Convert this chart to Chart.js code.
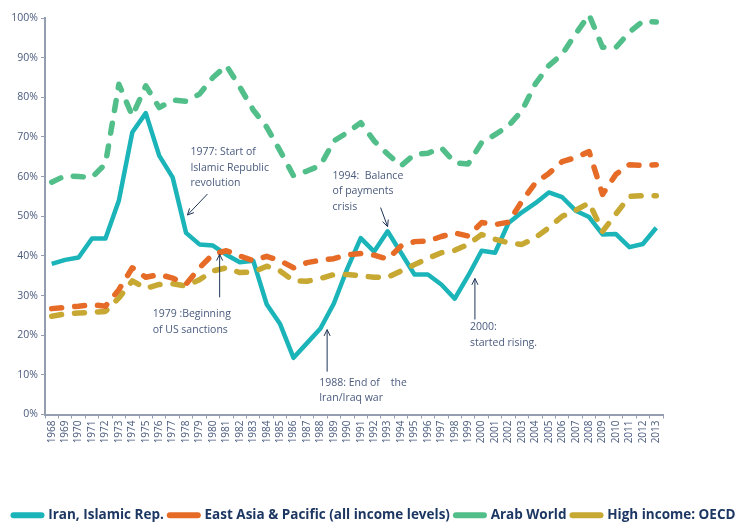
<!DOCTYPE html>
<html>
<head>
<meta charset="utf-8">
<script src="https://cdn.jsdelivr.net/npm/chart.js@4"></script>
<style>
  body{margin:0;background:#fff;}
  #wrap{width:749px;height:522px;}
</style>
</head>
<body>
<div id="wrap"><canvas id="chart" width="749" height="522"></canvas></div>
<script>
// years on the x axis
const years = [];
for (let y = 1968; y <= 2013; y++) years.push(String(y));

// values in %
const iran = [38,39,39.6,44.4,44.4,54,71.2,76,65.3,59.8,45.8,42.9,42.6,40.3,38.4,38.8,27.8,22.8,14.3,18,21.7,28,36.8,44.5,41.1,46.2,40.8,35.3,35.3,32.8,29.2,35,41.3,40.8,48.3,51,53.3,56,54.8,51.4,49.8,45.4,45.5,42.2,43,47.1];
const eastAsia = [26.7,27,27.3,27.7,27.3,31.5,37,34.6,35.3,34.4,32.9,37,40.4,41.3,40,38.8,39.9,38.8,37,38.3,38.9,39.3,40.3,40.6,40.2,39.2,42.5,43.6,43.7,44.9,45.8,45,48.4,47.9,48.5,53.8,58.4,60.8,63.8,64.8,66.3,55.5,60.6,63,62.8,63];
const arabWorld = [58.6,60.2,60,59.8,63.2,83.3,75.3,82.9,77.4,79.3,79,80.8,85,88,82.6,76.8,72.5,66.5,60.2,61.4,62.8,69,71.1,73.6,69,65.7,62.7,65.6,65.9,67.3,63.5,63.2,68.6,70.6,72.8,76.6,83.4,88,90.9,96,100.8,92.6,92.6,96.4,99.2,99];
const highOecd = [24.8,25.4,25.6,25.8,26,29.4,33.7,31.8,32.8,33,32.4,34,36.2,37,35.8,35.9,37.4,36.2,33.7,33.6,34.3,35.3,35.3,35,34.6,34.6,36.2,37.8,39.4,40.8,41.4,42.9,45.4,44.2,43.3,42.9,44.6,47.1,50,51.5,53.4,46.2,50.6,55,55.2,55.2];

const seriesNames = ["Iran, Islamic Rep.", "East Asia & Pacific (all income levels)", "Arab World", "High income: OECD"];
const seriesColors = ["#1bb4b9", "#e56b27", "#52bf8b", "#c6a833"];

const textColor = "#4a5b7e";
const axisColor = "#959eb0";

// callouts: arrow tip at (category index, value), tail and text offset in px
const notes = [
  { lines: ["1977: Start of", "Islamic Republic", "revolution"], at: [10.1, 50.3], tail: [20, -21], text: [3, -63] },
  { lines: ["1994:  Balance", "of payments", "crisis"], at: [25, 47.4], tail: [-7, -19], text: [-55, -51] },
  { lines: ["1979 :Beginning", "of US sanctions"], at: [12.5, 40.4], tail: [0, 43], text: [-67, 60] },
  { lines: ["1988: End of    the", "Iran/Iraq war"], at: [20.5, 21.4], tail: [0, 42], text: [-8, 53] },
  { lines: ["2000:", "started rising."], at: [31.5, 34.3], tail: [0, 41], text: [-5, 49] }
];

const notesPlugin = {
  id: "notes",
  afterDatasetsDraw(chart) {
    const ctx = chart.ctx;
    const xs = chart.scales.x, ys = chart.scales.y;
    ctx.save();
    ctx.font = "10.5px 'Open Sans'";
    ctx.fillStyle = textColor;
    ctx.textBaseline = "middle";
    ctx.textAlign = "left";
    notes.forEach(n => {
      const px = xs.getPixelForValue(n.at[0]);
      const py = ys.getPixelForValue(n.at[1]);
      n.lines.forEach((l, i) => ctx.fillText(l, px + n.text[0], py + n.text[1] + i * 15.5));
      const tx = px + n.tail[0], ty = py + n.tail[1];
      ctx.strokeStyle = "#1f3558";
      ctx.lineWidth = 1;
      ctx.beginPath();
      ctx.moveTo(tx, ty);
      ctx.lineTo(px, py);
      const a = Math.atan2(py - ty, px - tx);
      ctx.moveTo(px - 7 * Math.cos(a - 0.45), py - 7 * Math.sin(a - 0.45));
      ctx.lineTo(px, py);
      ctx.lineTo(px - 7 * Math.cos(a + 0.45), py - 7 * Math.sin(a + 0.45));
      ctx.stroke();
    });
    ctx.restore();
  }
};

function line(i, data, dashed, order) {
  return {
    label: seriesNames[i],
    data: data,
    borderColor: seriesColors[i],
    backgroundColor: seriesColors[i],
    borderWidth: dashed ? 5.5 : 4.5,
    borderDash: dashed ? [10, 13] : [],
    borderCapStyle: dashed ? "round" : "butt",
    borderJoinStyle: "round",
    pointRadius: 0,
    tension: 0,
    fill: false,
    clip: false,
    order: order
  };
}

new Chart(document.getElementById("chart"), {
  type: "line",
  data: {
    labels: years,
    datasets: [
      line(0, iran, false, 4),
      line(1, eastAsia, true, 1),
      line(2, arabWorld, true, 2),
      line(3, highOecd, true, 3)
    ]
  },
  plugins: [notesPlugin],
  options: {
    responsive: false,
    animation: false,
    layout: { padding: { top: 18, bottom: -10, left: 0, right: 0 } },
    plugins: {
      tooltip: { enabled: false },
      legend: {
        position: "bottom",
        labels: {
          usePointStyle: true,
          pointStyleWidth: 28,
          padding: 6,
          color: "#1d3763",
          font: { family: "'Open Sans'", size: 13.5, weight: "bold" },
          generateLabels: (chart) => chart.data.datasets.map((ds, i) => ({
            text: ds.label,
            strokeStyle: ds.borderColor,
            fillStyle: ds.borderColor,
            fontColor: "#1d3763",
            lineWidth: 6,
            lineCap: "round",
            lineDash: [],
            pointStyle: "line",
            hidden: false,
            datasetIndex: i
          }))
        }
      }
    },
    scales: {
      x: {
        offset: true,
        grid: { display: true, offset: true, drawOnChartArea: false, tickLength: 4, color: axisColor },
        border: { color: axisColor, width: 2 },
        ticks: {
          autoSkip: false, minRotation: 90, maxRotation: 90, padding: 2,
          color: textColor, font: { family: "'Open Sans'", size: 10 }
        },
        afterFit: s => { s.height = 88; }
      },
      y: {
        min: 0, max: 100,
        grid: { display: true, drawOnChartArea: false, tickLength: 4, color: axisColor },
        border: { color: axisColor, width: 2 },
        ticks: {
          stepSize: 10, padding: 3, color: textColor,
          font: { family: "'Open Sans'", size: 10.5 },
          callback: v => v + "%"
        },
        afterFit: s => { s.width = 45; }
      },
      yR: {
        position: "right",
        display: true,
        grid: { display: false },
        border: { display: false },
        ticks: { display: false },
        afterFit: s => { s.width = 86; }
      }
    }
  }
});
</script>
</body>
</html>
